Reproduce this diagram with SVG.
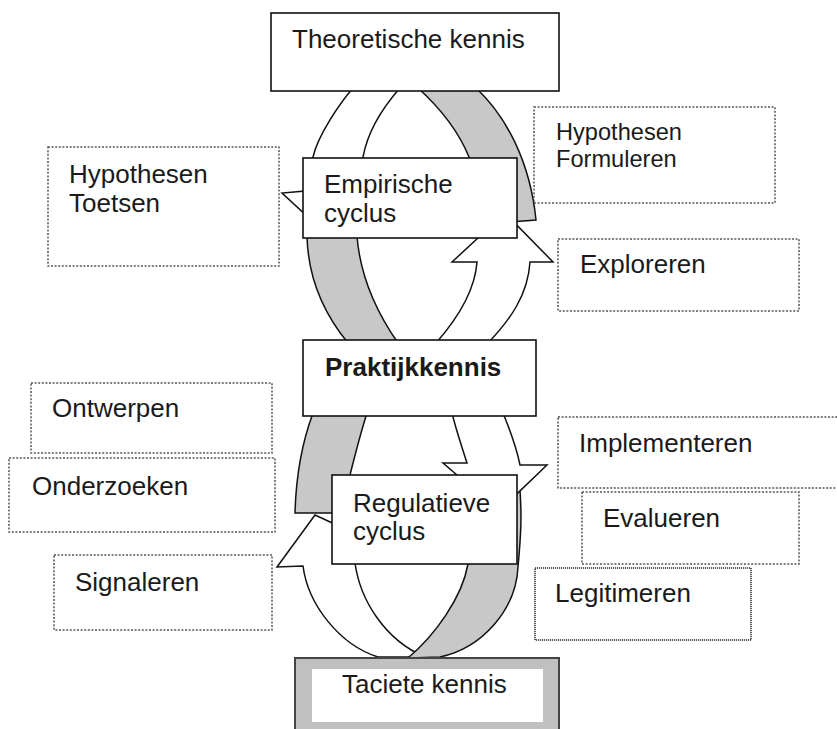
<svg xmlns="http://www.w3.org/2000/svg" width="837" height="729" viewBox="0 0 837 729">
<style>
text{font-family:"Liberation Sans",Arial,sans-serif;font-size:26px;fill:#1a1a1a}
.box{fill:#fff;stroke:#111;stroke-width:1.6}
.dot{fill:none;stroke:#555;stroke-width:1.5;stroke-dasharray:2 1.6}
.dot2{fill:none;stroke:#333;stroke-width:1.5;stroke-dasharray:1.2 0.8}
.w{fill:#fff;stroke:#111;stroke-width:1.5;stroke-linejoin:miter}
.g{fill:#c8c8c8;stroke:#111;stroke-width:1.5}
</style>
<g id="connectors">
  <!-- empirische cyclus -->
  <path class="g" d="M476,88 C505,115 530,160 536,220 L510,222 L469,157 C458,130 440,108 418,88 Z"/>
  <path class="w" d="M353,88 C340,103 318,135 313,157 L305,191 L282,193 L320,228 L360,200 L363,157 C368,130 385,105 400,88 Z"/>
  <path class="g" d="M307,236 C308,280 325,315 348,343 L398,343 C375,310 360,275 357,236 Z"/>
  <path class="w" d="M436,343 C458,318 475,290 477,262 L452,262 L505,213 L553,262 L530,262 C528,295 510,320 488,343 Z"/>
  <!-- regulatieve cyclus -->
  <path class="g" d="M313,413 C303,440 296,475 295,513 L340,513 L350,475 C355,455 360,435 367,413 Z"/>
  <path class="w" d="M378,657 C340,645 308,605 303,566 L277,567 L315,515 L380,545 L355,563 C360,600 385,640 425,657 Z"/>
  <path class="g" d="M440,657 C482,648 516,610 518,567 C520,545 523,515 519,480 L470,480 L468,564 C462,598 435,635 408,658 Z"/>
  <path class="w" d="M452,413 C456,430 462,447 467,463 L443,463 L499,511 L547,465 L520,465 C517,450 510,430 503,413 Z"/>
</g>
<g id="theoretische">
  <rect class="box" x="271" y="13" width="288" height="78"/>
  <text x="292" y="48">Theoretische kennis</text>
</g>
<g id="empirische">
  <rect class="box" x="303" y="158" width="214" height="80"/>
  <text x="324" y="193">Empirische</text>
  <text x="324" y="222">cyclus</text>
</g>
<g id="praktijk">
  <rect class="box" x="303" y="340" width="233" height="76"/>
  <text x="325" y="376" font-weight="bold">Praktijkkennis</text>
</g>
<g id="regulatieve">
  <rect class="box" x="332" y="475" width="185" height="89"/>
  <text x="353" y="512">Regulatieve</text>
  <text x="353" y="540">cyclus</text>
</g>
<g id="taciete">
  <rect x="295" y="658" width="264" height="80" fill="#c0c0c0" stroke="#444" stroke-width="2"/>
  <rect x="312" y="669" width="231" height="53" fill="#fff"/>
  <text x="342" y="693">Taciete kennis</text>
</g>
<g id="toetsen">
  <rect class="dot" x="48" y="147" width="231" height="119"/>
  <text x="69" y="183">Hypothesen</text>
  <text x="69" y="212">Toetsen</text>
</g>
<g id="formuleren">
  <rect class="dot" x="534" y="107" width="241" height="96"/>
  <text x="556" y="140" style="font-size:23.6px">Hypothesen</text>
  <text x="556" y="167" style="font-size:23.6px">Formuleren</text>
</g>
<g id="exploreren">
  <rect class="dot" x="558" y="239" width="241" height="72"/>
  <text x="580" y="273">Exploreren</text>
</g>
<g id="ontwerpen">
  <rect class="dot" x="31" y="383" width="241" height="70"/>
  <text x="52" y="417">Ontwerpen</text>
</g>
<g id="onderzoeken">
  <rect class="dot" x="9" y="458" width="266" height="74"/>
  <text x="32" y="495">Onderzoeken</text>
</g>
<g id="signaleren">
  <rect class="dot" x="54" y="555" width="218" height="75"/>
  <text x="75" y="591">Signaleren</text>
</g>
<g id="implementeren">
  <rect class="dot" x="558" y="417" width="285" height="71"/>
  <text x="579" y="452">Implementeren</text>
</g>
<g id="evalueren">
  <rect class="dot" x="582" y="492" width="217" height="72"/>
  <text x="603" y="527">Evalueren</text>
</g>
<g id="legitimeren">
  <rect class="dot2" x="535" y="568" width="216" height="72"/>
  <text x="555" y="602">Legitimeren</text>
</g>
</svg>
